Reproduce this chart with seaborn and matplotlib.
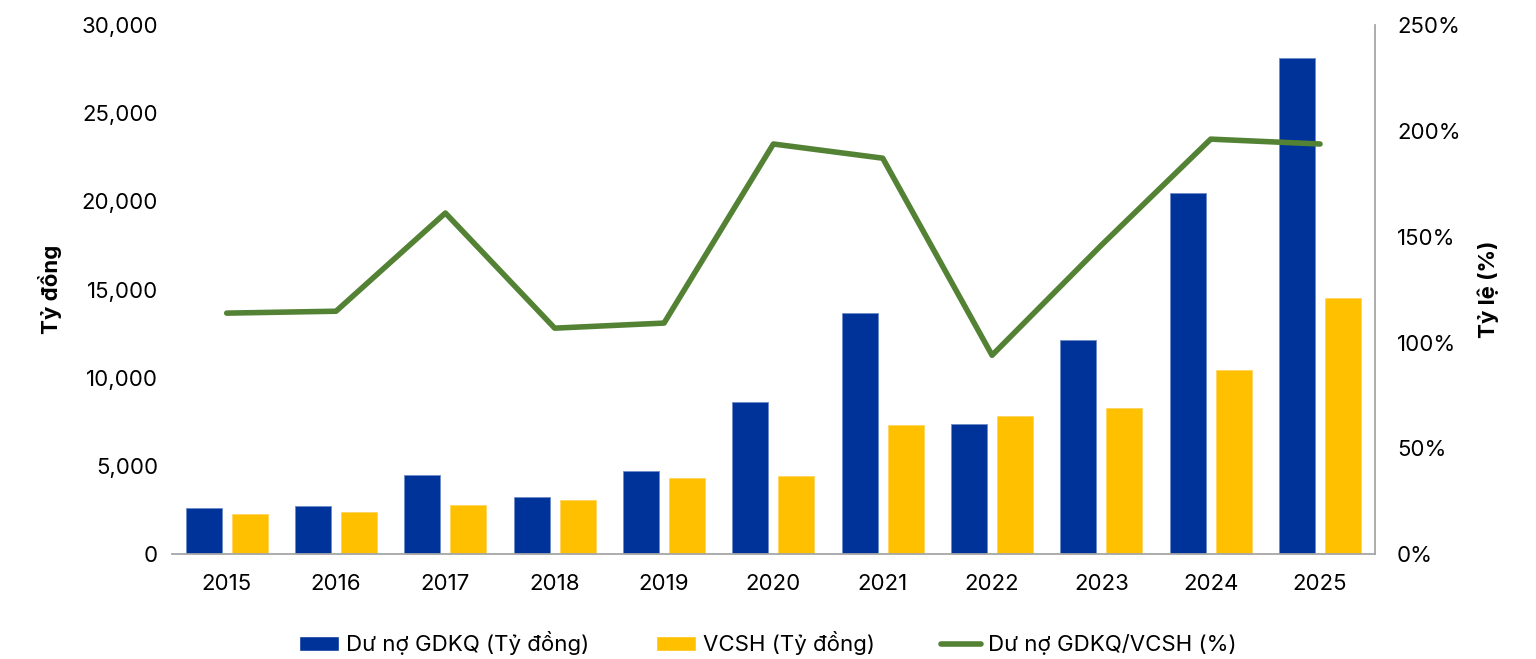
import numpy as np
import pandas as pd
import seaborn as sns
import matplotlib.pyplot as plt
from matplotlib.patches import Patch
from matplotlib.lines import Line2D
from matplotlib.ticker import FuncFormatter

# Data
years = ['2015', '2016', '2017', '2018', '2019', '2020', '2021', '2022', '2023', '2024', '2025']
du_no = [2600, 2750, 4500, 3250, 4700, 8650, 13700, 7400, 12150, 20450, 28150]
vcsh = [2300, 2400, 2800, 3050, 4300, 4450, 7300, 7850, 8300, 10450, 14550]
ratio = [113.9, 114.8, 161.2, 106.8, 109.2, 193.8, 187.1, 94.0, 146.0, 196.1, 193.8]

series_names = ['Dư nợ GDKQ (Tỷ đồng)', 'VCSH (Tỷ đồng)']
line_name = 'Dư nợ GDKQ/VCSH (%)'
colors = ['#003399', '#FFC000']
line_color = '#548235'

sns.set_theme(style='white')
plt.rcParams['font.family'] = ['Inter', 'DejaVu Sans']
plt.rcParams['text.color'] = 'black'
plt.rcParams['axes.labelcolor'] = 'black'
plt.rcParams['xtick.color'] = 'black'
plt.rcParams['ytick.color'] = 'black'

df = pd.DataFrame({
    'year': years * 2,
    'value': du_no + vcsh,
    'series': [series_names[0]] * len(years) + [series_names[1]] * len(years),
})

fig = plt.figure(figsize=(15.36, 6.59), dpi=100)
ax = fig.add_axes([0.112, 0.159, 0.783, 0.803])

sns.barplot(data=df, x='year', y='value', hue='series', palette=colors,
            saturation=1, width=0.84, gap=0.217, ax=ax, legend=False,
            edgecolor='#6f8cc7', linewidth=0.6)
for i, p in enumerate(ax.patches):
    if i >= len(years):
        p.set_edgecolor('#ffd560')

ax.set_xlim(-0.5, len(years) - 0.5)
ax.set_ylim(0, 30000)
ax.set_yticks(np.arange(0, 30001, 5000))
ax.yaxis.set_major_formatter(FuncFormatter(lambda v, _: f'{v:,.0f}'))
ax.set_xlabel('')
ax.set_ylabel('Tỷ đồng', fontsize=16, fontweight='bold', labelpad=14)
ax.tick_params(axis='both', labelsize=16, length=0, pad=10)
ax.tick_params(axis='x', pad=14)
for s in ['left', 'top', 'right']:
    ax.spines[s].set_visible(False)
ax.spines['bottom'].set_color('#a6a6a6')
ax.spines['bottom'].set_linewidth(1.3)

ax2 = ax.twinx()
sns.lineplot(x=np.arange(len(years)), y=ratio, ax=ax2, color=line_color,
             linewidth=4, solid_capstyle='round')
ax2.set_ylim(0, 250)
ax2.set_yticks(np.arange(0, 251, 50))
ax2.yaxis.set_major_formatter(FuncFormatter(lambda v, _: f'{v:.0f}%'))
ax2.set_ylabel('Tỷ lệ (%)', fontsize=16, fontweight='bold', labelpad=12)
ax2.tick_params(axis='y', labelsize=16, length=0, pad=16)
for s in ['left', 'top', 'bottom']:
    ax2.spines[s].set_visible(False)
ax2.spines['right'].set_color('#a6a6a6')
ax2.spines['right'].set_linewidth(1.3)
ax2.grid(False)
ax.grid(False)

handles = [Patch(facecolor=colors[0]), Patch(facecolor=colors[1]),
           Line2D([0], [0], color=line_color, linewidth=4, solid_capstyle='round')]
fig.legend(handles, series_names + [line_name], loc='lower center',
           bbox_to_anchor=(0.5, -0.025), ncol=3, frameon=False, fontsize=16,
           columnspacing=3, handlelength=1.8, handletextpad=0.3)

fig.savefig('out.png', dpi=100, facecolor='white')
